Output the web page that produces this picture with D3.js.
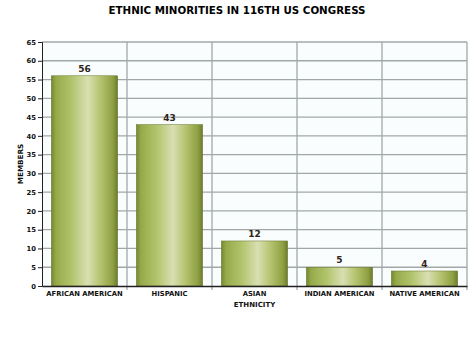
<!DOCTYPE html>
<html>
<head>
<meta charset="utf-8">
<script src="https://cdn.jsdelivr.net/npm/d3@7"></script>
<style>
  body { margin: 0; background: #fff; }
  text { font-family: "DejaVu Sans", Arial, sans-serif; font-weight: bold; }
</style>
</head>
<body>
<div id="chart"></div>
<script>
// values
let categories = ["AFRICAN AMERICAN", "HISPANIC", "ASIAN", "INDIAN AMERICAN", "NATIVE AMERICAN"];
let members = [56, 43, 12, 5, 4];
let yTicks = [0, 5, 10, 15, 20, 25, 30, 35, 40, 45, 50, 55, 60, 65];

let width = 474, height = 348;
let margin = {top: 42, right: 7, bottom: 62, left: 42};

let svg = d3.select("#chart").append("svg")
    .attr("width", width)
    .attr("height", height);

// bar gradient: olive edges, pale middle
let defs = svg.append("defs");
let grad = defs.append("linearGradient").attr("id", "barGrad")
    .attr("x1", "0%").attr("x2", "100%").attr("y1", "0%").attr("y2", "0%");
[[0, "#76862f"], [0.07, "#96aa4a"], [0.3, "#b1c36a"], [0.55, "#d9dfb2"], [0.75, "#b3c26c"], [0.93, "#8e9f43"], [1, "#6c7a2b"]]
    .forEach(function (s) {
        grad.append("stop").attr("offset", s[0]).attr("stop-color", s[1]);
    });

let x = d3.scaleBand()
    .domain(categories)
    .range([margin.left, width - margin.right])
    .padding(0);

let y = d3.scaleLinear()
    .domain([0, 65])
    .range([height - margin.bottom, margin.top]);

// plot background
svg.append("rect")
    .attr("x", margin.left).attr("y", margin.top)
    .attr("width", width - margin.left - margin.right)
    .attr("height", y(0) - margin.top)
    .attr("fill", "#f9fdfd");

// horizontal grid
svg.append("g").selectAll("line")
    .data(yTicks.filter(d => d > 0))
    .enter().append("line")
    .attr("x1", margin.left).attr("x2", width - margin.right)
    .attr("y1", d => y(d)).attr("y2", d => y(d))
    .attr("stroke", "#a2a8a8").attr("stroke-width", 1.3);

// vertical grid at category boundaries
svg.append("g").selectAll("line")
    .data(categories.slice(1).concat([null]))
    .enter().append("line")
    .attr("x1", d => d ? x(d) : width - margin.right)
    .attr("x2", d => d ? x(d) : width - margin.right)
    .attr("y1", margin.top).attr("y2", y(0) + 4)
    .attr("stroke", "#a2a8a8").attr("stroke-width", 1.3);

// bars
let inset = x.bandwidth() * 0.11;
svg.append("g").selectAll("rect")
    .data(members)
    .enter().append("rect")
    .attr("x", (d, i) => x(categories[i]) + inset)
    .attr("width", x.bandwidth() - 2 * inset)
    .attr("y", d => y(d))
    .attr("height", d => y(0) - y(d))
    .attr("fill", "url(#barGrad)")
    .attr("stroke", "#66732a").attr("stroke-width", 0.5);

// value labels
svg.append("g").selectAll("text")
    .data(members)
    .enter().append("text")
    .attr("x", (d, i) => x(categories[i]) + x.bandwidth() / 2)
    .attr("y", d => y(d) - 4)
    .attr("text-anchor", "middle")
    .attr("font-size", 9)
    .attr("fill", "#2e2418")
    .text(d => d);

// y axis
let yAxis = d3.axisLeft(y).tickValues(yTicks).tickSize(4).tickPadding(2);
let gy = svg.append("g")
    .attr("transform", "translate(" + margin.left + ",0)")
    .call(yAxis);
gy.select(".domain").attr("stroke", "#222");
gy.selectAll(".tick line").attr("stroke", "#222");
gy.selectAll(".tick text").attr("font-size", 6.8).attr("fill", "#111")
    .style("font-family", "'DejaVu Sans', Arial, sans-serif").style("font-weight", "bold");

// x axis
let xAxis = d3.axisBottom(x).tickSize(0).tickPadding(5);
let gx = svg.append("g")
    .attr("transform", "translate(0," + y(0) + ")")
    .call(xAxis);
gx.select(".domain").attr("stroke", "#222").attr("stroke-width", 1.3);
gx.selectAll(".tick text").attr("font-size", 6.8).attr("fill", "#111")
    .style("font-family", "'DejaVu Sans', Arial, sans-serif").style("font-weight", "bold");

// title
svg.append("text")
    .attr("x", 237).attr("y", 14)
    .attr("text-anchor", "middle")
    .attr("font-size", 11)
    .attr("textLength", 257).attr("lengthAdjust", "spacingAndGlyphs")
    .attr("fill", "#000")
    .style("font-weight", 900)
    .text("ETHNIC MINORITIES IN 116TH US CONGRESS");

// axis titles
svg.append("text")
    .attr("x", (margin.left + width - margin.right) / 2).attr("y", 307)
    .attr("text-anchor", "middle")
    .attr("font-size", 7)
    .attr("fill", "#111")
    .text("ETHNICITY");

svg.append("text")
    .attr("transform", "translate(23," + (margin.top + y(0)) / 2 + ") rotate(-90)")
    .attr("text-anchor", "middle")
    .attr("font-size", 7.2)
    .attr("fill", "#111")
    .text("MEMBERS");
</script>
</body>
</html>
